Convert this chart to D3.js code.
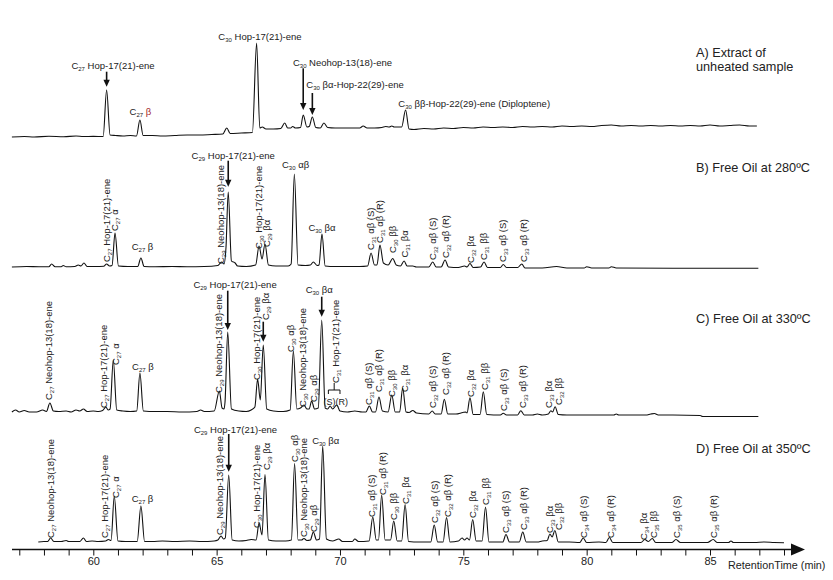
<!DOCTYPE html>
<html>
<head>
<meta charset="utf-8">
<script src="https://cdn.jsdelivr.net/npm/d3@7"></script>
<style>
body { margin: 0; background: #fff; }
svg { display: block; font-family: "Liberation Sans", Arial, sans-serif; }
</style>
</head>
<body>
<svg id="chart" width="833" height="580"></svg>
<script>
// retention time (min), relative intensity
const traceA = [[56.7,0],[57.2,0.5],[57.6,0],[58.2,0.8],[58.8,0.3],[59.3,1],[59.6,0.5],[60.0,0.6],[60.4,0.5],[60.54,47],[60.68,2],[60.9,1.5],[61.2,1],[61.5,1.5],[61.75,1],[61.89,17],[62.02,1.5],[62.4,1.5],[62.8,1],[63.3,1.5],[63.8,2],[64.3,2],[64.8,2.5],[65.25,3],[65.41,9],[65.55,3.5],[66.0,4],[66.45,4.5],[66.62,94],[66.75,9],[66.85,10],[67.0,8],[67.3,8],[67.6,8.5],[67.76,14],[67.88,9],[68.0,9],[68.08,10.5],[68.2,9],[68.4,9.5],[68.51,22],[68.66,10],[68.75,10.5],[68.88,20],[69.02,9.5],[69.2,9],[69.35,14],[69.5,9.5],[69.8,9],[70.3,9],[70.8,9],[70.94,11],[71.1,9],[71.4,9],[71.7,9.5],[71.85,10.5],[72.0,10],[72.1,11],[72.2,10],[72.5,10],[72.66,27],[72.8,8],[73.0,7.5],[73.4,8.5],[73.8,8],[74.2,9],[74.6,8.5],[75.0,9.5],[75.4,9],[75.8,10],[76.2,9.5],[76.6,10],[77.0,9.5],[77.4,10.5],[77.8,10],[78.2,10.5],[78.6,10],[79.0,11],[79.4,10.5],[79.8,11],[80.2,10.5],[80.6,11.5],[81.0,12],[81.4,11],[81.8,11.5],[82.2,11],[82.6,11.5],[83.0,11],[83.4,11.5],[83.8,11],[84.2,11.5],[84.6,11],[85.0,12],[85.4,11],[85.8,11.5],[86.2,12],[86.6,11],[86.9,11]];

const traceB = [[56.7,0],[57.3,0.5],[57.8,0.2],[58.2,0.3],[58.31,3],[58.45,0.3],[58.7,0.3],[58.78,1.5],[58.9,0.3],[59.25,0.5],[59.39,2],[59.5,1],[59.62,4],[59.75,0.5],[60.1,0.5],[60.42,0.8],[60.54,3],[60.66,1],[60.76,1.5],[60.88,34],[61.02,1],[61.4,0.5],[61.8,0.5],[61.93,9],[62.06,0.5],[62.5,0.2],[63.2,0.5],[63.8,0.3],[64.5,0.5],[65.05,1.5],[65.2,5],[65.3,3],[65.38,20],[65.47,75],[65.6,6],[65.75,4],[65.85,1],[66.2,0.5],[66.58,2],[66.72,21],[66.84,8],[66.96,23],[67.1,2],[67.4,1],[67.9,1],[68.02,3],[68.15,93],[68.3,2],[68.6,1.5],[68.8,2],[68.92,5],[69.08,1.5],[69.15,2],[69.27,33],[69.4,1],[69.8,0.5],[70.3,0.5],[70.8,0.5],[71.12,1],[71.26,14],[71.4,2],[71.5,2],[71.62,22],[71.76,4],[71.95,2],[72.14,8.5],[72.28,2],[72.45,1],[72.6,6],[72.72,1],[72.95,1],[73.1,0],[73.6,0],[73.76,5],[73.9,0],[74.1,0],[74.26,7],[74.4,0],[74.8,-0.5],[75.05,1],[75.15,0],[75.27,3.5],[75.4,-0.5],[75.7,0],[75.84,5],[75.98,-0.5],[76.5,-0.5],[76.62,2.5],[76.75,-0.5],[77.2,-0.5],[77.37,3],[77.5,-1],[78.2,-1],[78.78,0.5],[79.2,-1],[79.9,-1],[80.0,0.3],[80.2,-1],[80.9,-1],[81.0,0.3],[81.2,-1],[83.5,-1.3],[86.96,-1.3]];

const traceC = [[56.7,0],[56.85,2],[57.0,0],[57.2,1.5],[57.4,0],[57.7,0],[57.95,2],[58.1,0.5],[58.24,9],[58.38,1],[58.6,0.5],[58.9,1],[59.1,0],[59.3,2],[59.45,1],[59.6,3],[59.75,0.5],[60.0,1],[60.2,0.5],[60.38,1.5],[60.51,5],[60.6,2],[60.68,3],[60.81,52],[60.95,2],[61.2,1],[61.5,0.5],[61.76,1],[61.89,39],[62.03,1],[62.5,0.5],[63.0,0.5],[63.6,0],[64.2,0.5],[64.35,2],[64.5,0.5],[64.9,1],[65.11,21],[65.22,4],[65.3,3],[65.34,10],[65.45,80],[65.6,3],[65.9,1],[66.2,0.5],[66.4,2],[66.55,5],[66.66,33],[66.77,12],[66.89,67],[67.03,3],[67.3,1],[67.7,0.5],[67.98,2],[68.11,61],[68.25,3],[68.4,4],[68.54,7],[68.66,3],[68.75,3],[68.85,11],[68.97,3],[69.12,4],[69.26,92],[69.4,4],[69.5,3],[69.6,6],[69.7,3],[69.87,7],[70.0,1],[70.3,0],[70.6,1],[70.9,0],[71.05,0],[71.19,6],[71.32,0],[71.44,0],[71.58,15],[71.72,1],[71.95,0],[72.1,17],[72.24,0],[72.42,0],[72.54,24],[72.68,0],[72.8,-0.5],[72.95,1.5],[73.1,-1],[73.6,-2],[73.74,1],[73.86,-2],[74.1,-2],[74.23,12.7],[74.37,-2],[74.7,-2],[74.98,-0.5],[75.1,0],[75.15,-1],[75.27,14.3],[75.4,-2.5],[75.68,-2.5],[75.81,20.3],[75.95,-2.5],[76.5,-3],[76.62,-1.3],[76.75,-3],[77.2,-3],[77.33,1.3],[77.47,-3],[77.8,-3],[78.0,-2],[78.2,-3],[78.45,-2],[78.55,1.3],[78.62,0],[78.72,5.3],[78.85,-2.5],[79.2,-3],[80.0,-3],[81.1,-3],[81.2,-2],[81.3,-3],[82.4,-3],[82.6,-2],[82.75,-1.5],[82.9,-3],[83.5,-3],[84.6,-3.5],[84.7,-4.5],[86.96,-4.5]];

const traceD = [[57.77,0],[58.0,0.5],[58.15,0.5],[58.27,4],[58.4,0.5],[58.7,0.5],[58.9,1.5],[59.0,0.5],[59.45,0.5],[59.6,4],[59.72,0.5],[59.95,1],[60.2,0.5],[60.5,1],[60.61,2.5],[60.72,1.5],[60.85,46],[61.0,1],[61.3,0.5],[61.78,0.5],[61.93,36],[62.08,0.5],[62.4,0.5],[62.8,1],[63.3,0.5],[63.9,1],[64.4,0.5],[64.9,1],[65.05,2],[65.18,6],[65.28,3],[65.35,4],[65.49,67],[65.63,2],[65.9,1],[66.2,1.5],[66.4,2.5],[66.6,2],[66.72,19],[66.84,7],[66.96,67.5],[67.1,2],[67.4,1],[67.8,1],[68.03,2],[68.16,78.5],[68.3,2],[68.44,2],[68.54,3.5],[68.66,1.5],[68.8,2],[68.92,10],[69.05,2],[69.17,3],[69.3,96],[69.45,3],[69.7,1],[69.95,3],[70.1,0.5],[70.5,0.5],[70.6,3],[70.75,0.5],[71.18,1],[71.33,25],[71.47,2],[71.56,2],[71.69,47],[71.83,2],[72.05,2],[72.18,21],[72.32,1],[72.5,1],[72.64,37.5],[72.78,0.5],[73.2,0],[73.68,0],[73.82,17],[73.96,0],[74.18,0],[74.32,24.5],[74.46,0],[74.8,1],[74.95,4],[75.05,2],[75.15,4],[75.25,2],[75.38,22.5],[75.52,1],[75.76,1],[75.9,35],[76.04,0],[76.6,0],[76.73,7.5],[76.87,0],[77.27,0],[77.41,10],[77.55,0],[78.0,0],[78.2,1],[78.4,1.5],[78.51,8],[78.6,5],[78.71,11.5],[78.85,0],[79.3,0],[79.72,-0.5],[79.86,4],[80.0,-0.5],[80.5,0],[80.78,-0.5],[80.92,4.5],[81.06,-0.5],[81.6,-0.5],[82.2,-0.5],[82.36,2.5],[82.5,0.5],[82.66,3.5],[82.8,-0.5],[83.45,-0.5],[83.62,2.5],[83.8,-0.5],[84.9,-0.5],[85.13,2.5],[85.3,-0.5],[85.75,-0.5],[85.85,1],[85.95,-0.5],[86.8,-0.5],[87.2,0],[87.6,-0.5],[88.0,-0.7]];

const xTicks = d3.range(57, 89);
const xLabelTicks = [60, 65, 70, 75, 80, 85];
const panelTitles = [["A) Extract of", "unheated sample"], ["B) Free Oil at 280ºC"], ["C) Free Oil at 330ºC"], ["D) Free Oil at 350ºC"]];

// annotations: [time, text, level, dx, kind]  kind: v = vertical, h = centred, s = start
const labelsA = [
	[60.54, "C27 Hop-17(21)-ene", 68.5, 6.4, "h"],
	[61.89, "C27 β", 22, 0.5, "h", "red"],
	[66.62, "C30 Hop-17(21)-ene", 97, 3.4, "h"],
	[68.51, "C30 Neohop-13(18)-ene", 71.3, -10.3, "s"],
	[68.88, "C30 βα-Hop-22(29)-ene", 48.7, -6, "s"],
	[72.66, "C30 ββ-Hop-22(29)-ene (Diploptene)", 30.3, -7.3, "s"]
];
const labelsB = [
	[60.54, "C27 Hop-17(21)-ene", 5, 3.4, "v"],
	[60.88, "C27 α", 36, 3, "v"],
	[61.93, "C27 β", 17, 1.6, "h"],
	[65.2, "C29 Neohop-13(18)-ene", 3, 2, "v"],
	[65.47, "C29 Hop-17(21)-ene", 107.7, 5, "h"],
	[66.72, "C30 Hop-17(21)-ene", 18, 3.4, "v"],
	[66.96, "C29 βα", 20, 5, "v"],
	[68.15, "C30 αβ", 98.7, 1.2, "h"],
	[69.27, "C30 βα", 36.3, 0, "h"],
	[71.26, "C31 αβ (S)", 17, 3, "v"],
	[71.62, "C31 αβ (R)", 24, 3.5, "v"],
	[72.14, "C30 ββ", 14, 3, "v"],
	[72.6, "C31 βα", 9.5, 3.5, "v"],
	[73.76, "C32 αβ (S)", 7, 3.3, "v"],
	[74.26, "C32 αβ (R)", 9, 4, "v"],
	[75.27, "C32 βα", 4, 4, "v"],
	[75.84, "C31 ββ", 7, 3.4, "v"],
	[76.62, "C33 αβ (S)", 5, 2.7, "v"],
	[77.37, "C33 αβ (R)", 5, 5, "v"]
];
const labelsC = [
	[58.24, "C27 Neohop-13(18)-ene", 12, 2.6, "v"],
	[60.51, "C27 Hop-17(21)-ene", 4, 1.6, "v"],
	[60.81, "C27 α", 47, 6, "v"],
	[61.89, "C27 β", 42, 3, "h"],
	[65.11, "C29 Neohop-13(18)-ene", 19, 3, "v"],
	[65.45, "C29 Hop-17(21)-ene", 123.7, 7.3, "h"],
	[66.66, "C30 Hop-17(21)-ene", 32, 2, "v"],
	[66.89, "C29 βα", 92, 6, "v"],
	[68.11, "C30 αβ", 60, 0.6, "v"],
	[68.54, "C30 Neohop-13(18)-ene", 5, 2, "v"],
	[68.85, "C29 αβ", 10, 5, "v"],
	[69.26, "C30 βα", 118.7, -2.5, "h"],
	[69.735, "C31 Hop-17(21)-ene", 29, 6, "v"],
	[69.735, "(S)(R)", 7, 2.4, "h"],
	[71.19, "C31 αβ (S)", 7, 3, "v"],
	[71.58, "C31 αβ (R)", 20, 3.5, "v"],
	[72.1, "C30 ββ", 15, 3.7, "v"],
	[72.54, "C31 βα", 20, 5, "v"],
	[73.74, "C32 αβ (S)", 4, 3.8, "v"],
	[74.23, "C32 αβ (R)", 17, 4.7, "v"],
	[75.27, "C32 βα", 15, 4, "v"],
	[75.81, "C31 ββ", 22, 4.2, "v"],
	[76.62, "C33 αβ (S)", 1, 3.7, "v"],
	[77.33, "C33 αβ (R)", 4, 5, "v"],
	[78.55, "C33 βα", 4, 1.6, "v"],
	[78.72, "C32 ββ", 7, 7, "v"]
];
const labelsD = [
	[58.27, "C27 Neohop-13(18)-ene", 4, 3.4, "v"],
	[60.61, "C27 Hop-17(21)-ene", 4, -0.8, "v"],
	[60.85, "C27 α", 44, 5, "v"],
	[61.93, "C27 β", 40.3, 1.6, "h"],
	[65.18, "C29 Neohop-13(18)-ene", 7, 2, "v"],
	[65.49, "C29 Hop-17(21)-ene", 109.3, 6.8, "h"],
	[66.72, "C30 Hop-17(21)-ene", 14, 1.4, "v"],
	[66.96, "C29 βα", 72, 5.5, "v"],
	[68.16, "C30 αβ", 80, 3, "v"],
	[68.54, "C30 Neohop-13(18)-ene", 5, 3.5, "v"],
	[68.92, "C29 αβ", 10, 4, "v"],
	[69.3, "C30 βα", 98, 3, "h"],
	[71.33, "C31 αβ (S)", 25, 2.7, "v"],
	[71.69, "C31 αβ (R)", 47, 4.3, "v"],
	[72.18, "C30 ββ", 22, 3.7, "v"],
	[72.64, "C31 βα", 38, 4, "v"],
	[73.82, "C32 αβ (S)", 19, 3.3, "v"],
	[74.32, "C32 αβ (R)", 25, 4.5, "v"],
	[75.38, "C32 βα", 24, 3.3, "v"],
	[75.9, "C31 ββ", 37, 3.5, "v"],
	[76.73, "C33 αβ (S)", 9, 3.5, "v"],
	[77.41, "C33 αβ (R)", 12, 4.7, "v"],
	[78.51, "C33 βα", 9, 2.6, "v"],
	[78.71, "C32 ββ", 12, 6.7, "v"],
	[79.86, "C34 αβ (S)", 4, 3.8, "v"],
	[80.92, "C34 αβ (R)", 4, 4.6, "v"],
	[82.36, "C34 βα", 2, 2.6, "v"],
	[82.66, "C35 ββ", 4, 5.2, "v"],
	[83.62, "C35 αβ (S)", 4, 4.5, "v"],
	[85.13, "C35 αβ (R)", 4, 4.2, "v"]
];
// [time, from level, to level]
const arrowsA = [[60.54, 65.3, 50.3], [68.51, 68.7, 27], [68.88, 44, 22]];
const arrowsB = [[65.47, 106.3, 80.3]];
const arrowsC = [[65.45, 121.3, 82], [66.89, 90.3, 70.3], [69.26, 115.3, 95.3]];
const arrowsD = [[65.49, 108, 70.3]];

const TEXT = "#222";
const ACCENT = "#a3282c";

const panels = [
	{ trace: traceA, base: 137, labels: labelsA, arrows: arrowsA, title: panelTitles[0], titleY: 56.5 },
	{ trace: traceB, base: 267, labels: labelsB, arrows: arrowsB, title: panelTitles[1], titleY: 171.5 },
	{ trace: traceC, base: 412, labels: labelsC, arrows: arrowsC, title: panelTitles[2], titleY: 323.3, bracket: [69.53, 70.0, 22] },
	{ trace: traceD, base: 542, labels: labelsD, arrows: arrowsD, title: panelTitles[3], titleY: 453.3 }
];

const svg = d3.select("#chart");
const x = d3.scaleLinear().domain([60, 85]).range([93.3, 710]);

function richText(sel, str, accent) {
	let shift = 0;
	str.split(/(C\d\d)/).forEach(p => {
		if (!p) return;
		const m = p.match(/^C(\d\d)$/);
		if (m) {
			sel.append("tspan").attr("dy", -shift).text("C");
			sel.append("tspan").attr("font-size", 6).attr("dy", 2).text(m[1]);
			shift = 2;
		} else {
			sel.append("tspan").attr("dy", -shift)
				.attr("fill", accent ? ACCENT : null)
				.text(p);
			shift = 0;
		}
	});
}

panels.forEach(P => {
	const y = d3.scaleLinear().domain([0, 100]).range([P.base, P.base - 100]);
	const g = svg.append("g");

	const line = d3.line()
		.x(d => x(d[0]))
		.y(d => y(d[1]))
		.curve(d3.curveMonotoneX);

	g.append("path")
		.datum(P.trace)
		.attr("d", line)
		.attr("fill", "none")
		.attr("stroke", "#111")
		.attr("stroke-width", 1.1)
		.attr("stroke-linejoin", "round");

	P.labels.forEach(L => {
		const [t, str, lv, dx, kind, accent] = L;
		const px = x(t) + dx, py = y(lv);
		const txt = g.append("text")
			.attr("fill", TEXT)
			.attr("font-size", str === "(S)(R)" ? 9 : 9.5);
		if (kind === "v") {
			txt.attr("transform", `translate(${px},${py}) rotate(-90)`);
		} else {
			txt.attr("x", px).attr("y", py)
				.attr("text-anchor", kind === "h" ? "middle" : "start");
		}
		richText(txt, str, accent);
	});

	P.arrows.forEach(A => {
		const ax = x(A[0]), y1 = y(A[1]), y2 = y(A[2]);
		g.append("line")
			.attr("x1", ax).attr("x2", ax)
			.attr("y1", y1).attr("y2", y2 - 6)
			.attr("stroke", "#111").attr("stroke-width", 1.6);
		g.append("path")
			.attr("d", `M${ax - 3.2},${y2 - 7}L${ax + 3.2},${y2 - 7}L${ax},${y2}Z`)
			.attr("fill", "#111");
	});

	if (P.bracket) {
		const [t0, t1, lv] = P.bracket;
		const bx0 = x(t0), bx1 = x(t1), by = y(lv), mid = (bx0 + bx1) / 2;
		g.append("path")
			.attr("d", `M${bx0},${by + 4}V${by}H${bx1}V${by + 4}M${mid},${by}V${by - 7}`)
			.attr("fill", "none").attr("stroke", "#111").attr("stroke-width", 1);
	}

	P.title.forEach((s, i) => {
		g.append("text")
			.attr("x", 696).attr("y", P.titleY + i * 14)
			.attr("font-size", 12.7).attr("fill", TEXT)
			.text(s);
	});
});

// x axis
const axisY = 549.5;
const xAxis = d3.axisBottom(x)
	.tickValues(xTicks)
	.tickSize(6)
	.tickPadding(2)
	.tickFormat(d => xLabelTicks.includes(d) ? d : "");

const ax = svg.append("g")
	.attr("transform", `translate(0,${axisY})`)
	.call(xAxis);
ax.select(".domain").remove();
ax.selectAll(".tick line").attr("stroke", "#111");
ax.selectAll(".tick text")
	.attr("font-size", 11)
	.attr("font-family", "Liberation Sans, Arial, sans-serif")
	.attr("fill", TEXT);

svg.append("line")
	.attr("x1", 12).attr("x2", 793)
	.attr("y1", axisY).attr("y2", axisY)
	.attr("stroke", "#111").attr("stroke-width", 1.6);
svg.append("path")
	.attr("d", `M791,${axisY - 6}L805,${axisY}L791,${axisY + 6}Z`)
	.attr("fill", "#111");

svg.append("text")
	.attr("x", 728).attr("y", 569)
	.attr("font-size", 10.8).attr("fill", TEXT)
	.text("RetentionTime (min)");
</script>
</body>
</html>
